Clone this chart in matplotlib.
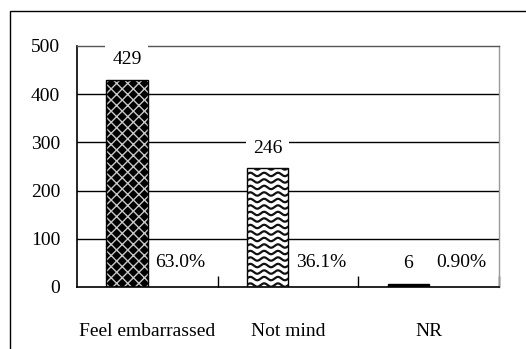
import matplotlib
matplotlib.use("Agg")
import matplotlib.pyplot as plt
import numpy as np
from matplotlib.patches import Rectangle

categories = ["Feel embarrassed", "Not mind", "NR"]
counts = [429, 246, 6]
percents = ["63.0%", "36.1%", "0.90%"]
y_ticks = [0, 100, 200, 300, 400, 500]

plt.rcParams["font.family"] = ["Liberation Serif", "DejaVu Serif"]
FS = 14

fig = plt.figure(figsize=(5.26, 3.49), dpi=100)
ax = fig.add_axes([0.1464, 0.1777, 0.8023, 0.6905])

# outer frame (open to the right and bottom, as in the source)
fig.patches.append(Rectangle((10 / 526, -0.1), 1.2, (349 - 11) / 349 + 0.1,
                             transform=fig.transFigure, fill=False,
                             edgecolor="black", linewidth=1.0))

x = np.arange(len(categories))
offset = -0.145
width = 0.295

# gridlines
for t in y_ticks[1:-1]:
    ax.axhline(t, color="black", linewidth=1.0, zorder=1)

# bar 1: black with light crosshatch
ax.bar(x[0] + offset, counts[0], width, color="black", edgecolor="#c8c8c8",
       hatch="xxx", linewidth=0, zorder=2)
ax.bar(x[0] + offset, counts[0], width, fill=False, edgecolor="black",
       linewidth=1.0, zorder=3)

# bar 2: white with wavy lines
wave_bar = ax.bar(x[1] + offset, counts[1], width, color="white",
                  edgecolor="black", linewidth=1.0, zorder=2)[0]
bx0 = x[1] + offset - width / 2
xs = np.linspace(bx0, bx0 + width, 200)
for yy in np.arange(4, counts[1] + 10, 13.5):
    ys = yy + 3.5 * np.sin((xs - bx0) / width * 3 * 2 * np.pi)
    ln, = ax.plot(xs, ys, color="#111111", linewidth=1.6, zorder=3)
    ln.set_clip_path(wave_bar)

# bar 3: solid black
ax.bar(x[2] + offset, counts[2], width, color="black", edgecolor="black",
       linewidth=1.0, zorder=2)

# value labels above bars
for i, c in enumerate(counts):
    ax.text(x[i] + offset, c + 42, str(c), ha="center", va="center",
            fontsize=FS, zorder=5,
            bbox=dict(boxstyle="square,pad=0.35", facecolor="white",
                      edgecolor="none"))

# percent labels
for i, p in enumerate(percents):
    ax.text(x[i] + 0.235, 50, p, ha="center", va="center", fontsize=FS,
            zorder=5)

ax.set_xlim(-0.5, 2.5)
ax.set_ylim(0, 500)
ax.set_yticks(y_ticks)
ax.set_yticklabels([str(t) for t in y_ticks], fontsize=FS)
ax.tick_params(axis="y", length=0, pad=12)

ax.set_xticks(x)
ax.set_xticklabels(categories, fontsize=FS)
ax.tick_params(axis="x", which="major", length=0, pad=26)
ax.set_xticks([0.5, 1.5, 2.5], minor=True)
ax.tick_params(axis="x", which="minor", direction="in", length=8,
               width=1.0, color="black")

for side in ["left", "bottom"]:
    ax.spines[side].set_color("black")
    ax.spines[side].set_linewidth(1.2)
ax.spines["top"].set_color("#555555")
ax.spines["right"].set_color("#999999")
ax.spines["top"].set_linewidth(1.0)
ax.spines["right"].set_linewidth(1.0)

fig.savefig("out.png", dpi=100)
